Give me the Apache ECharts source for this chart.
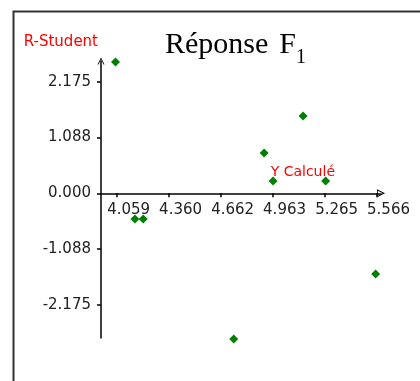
<!DOCTYPE html>
<html>
<head>
<meta charset="utf-8">
<script src="https://cdn.jsdelivr.net/npm/echarts@6/dist/echarts.min.js"></script>
<style>
  html, body { margin: 0; padding: 0; background: #fff; }
  #chart { width: 420px; height: 381px; }
</style>
</head>
<body>
<div id="chart"></div>
<script>
// valeurs
const yCalcule = [4.052, 5.140, 4.914, 4.966, 5.271, 4.165, 4.213, 4.738, 5.561]
const rStudent = [2.564, 1.510, 0.787, 0.240, 0.240, -0.502, -0.502, -2.846, -1.576]
const xTicks = [4.059, 4.360, 4.662, 4.963, 5.265, 5.566]
const yTicks = [-2.175, -1.088, 0, 1.088, 2.175]

const points = yCalcule.map((x, i) => [x, rStudent[i]])

const yMin = -2.826
const yMax = 2.584
const gridTop = 61
const gridBottom = 43

const chart = echarts.init(document.getElementById('chart'))
const labelFont = { fontFamily: 'DejaVu Sans', fontSize: 15, color: '#222' }

// l'axe X passe par 0 : on le remonte depuis le bas de la grille
const plotHeight = 381 - gridTop - gridBottom
const xAxisOffset = -plotHeight * (0 - yMin) / (yMax - yMin)

const serif = { fontFamily: 'Liberation Serif', color: '#000', fontWeight: 'normal', verticalAlign: 'bottom' }

const option = {
  animation: false,
  title: {
    text: '{a|Réponse}{f|F}{s|1}',
    left: 160,
    top: 25,
    textStyle: {
      fontWeight: 'normal',
      rich: {
        a: Object.assign({ fontSize: 30, padding: [0, 0, 8, 0] }, serif),
        f: Object.assign({ fontSize: 30, padding: [0, 0, 8, 11] }, serif),
        s: Object.assign({ fontSize: 20 }, serif)
      }
    }
  },
  graphic: [
    {
      type: 'rect',
      left: 11,
      top: 9,
      shape: { width: 430, height: 400 },
      style: { fill: 'none', stroke: '#333', lineWidth: 2 }
    }
  ],
  grid: {
    left: 101,
    right: 39,
    top: gridTop,
    bottom: gridBottom
  },
  xAxis: {
    type: 'value',
    min: 3.968,
    max: 5.592,
    offset: xAxisOffset,
    name: 'Y Calculé',
    nameLocation: 'end',
    nameGap: -46,
    nameTextStyle: {
      color: '#ff0000',
      fontFamily: 'DejaVu Sans',
      fontSize: 14,
      align: 'right',
      verticalAlign: 'bottom',
      padding: [0, 0, 14, 0]
    },
    splitLine: { show: false },
    axisLine: {
      onZero: false,
      symbol: ['none', 'path://M5,0 L10,10 L0,10 Z M5,2.8 L1.8,9 L8.2,9 Z'],
      symbolSize: [9, 8],
      lineStyle: { color: '#000', width: 1.5 }
    },
    axisTick: {
      customValues: xTicks,
      length: 4,
      lineStyle: { color: '#000', width: 1.5 }
    },
    axisLabel: Object.assign({
      customValues: xTicks,
      margin: 9,
      padding: [0, 0, 0, 24],
      formatter: v => v.toFixed(3)
    }, labelFont)
  },
  yAxis: {
    type: 'value',
    min: yMin,
    max: yMax,
    name: 'R-Student',
    nameLocation: 'end',
    nameGap: 19,
    nameTextStyle: {
      color: '#ff0000',
      fontFamily: 'DejaVu Sans',
      fontSize: 15,
      align: 'right',
      verticalAlign: 'middle',
      padding: [0, 3, 0, 0]
    },
    splitLine: { show: false },
    axisLine: {
      onZero: false,
      symbol: ['none', 'path://M0,10 L5,0 L10,10 L8.6,10 L5,2.6 L1.4,10 Z'],
      symbolSize: [8, 7],
      lineStyle: { color: '#000', width: 1.5 }
    },
    axisTick: {
      customValues: yTicks,
      length: 4,
      lineStyle: { color: '#000', width: 1.5 }
    },
    axisLabel: Object.assign({
      customValues: yTicks,
      margin: 10,
      formatter: v => v.toFixed(3)
    }, labelFont)
  },
  series: [
    {
      type: 'scatter',
      data: points,
      clip: false,
      symbol: 'diamond',
      symbolSize: 9,
      itemStyle: { color: '#008000', opacity: 1 }
    }
  ]
}

chart.setOption(option)
</script>
</body>
</html>
